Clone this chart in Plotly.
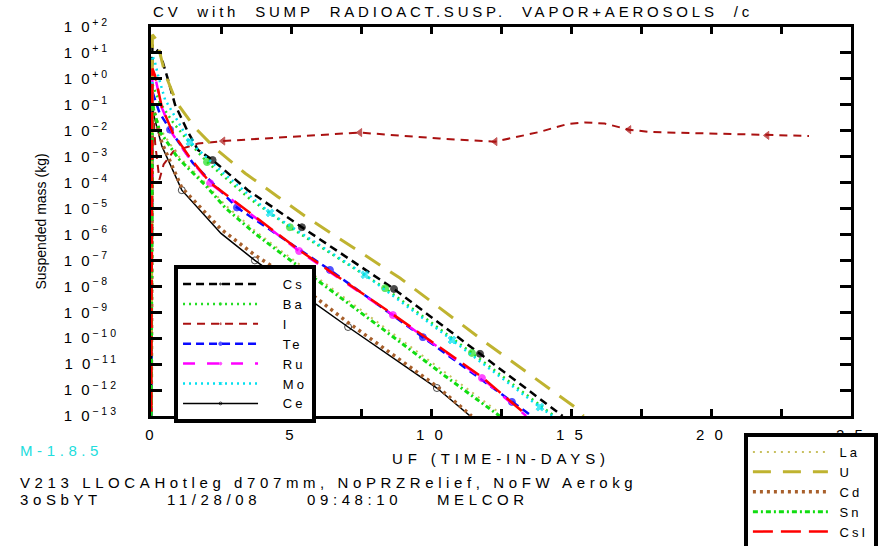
import plotly.graph_objects as go

# ---- suspended mass in the CV (kg) versus time (days), one list pair per species ----
cs_t = [0.0, 0.05, 0.15, 0.32, 0.6, 0.86, 1.32, 1.68, 2.2, 3.46, 5.39, 8.68, 11.75, 14.7]
cs_m = [1e-15, 2.0e1, 1.5e1, 1.0e1, 1.0, 1.0e-1, 8.9e-3, 1.8e-3, 7.4e-4, 5.1e-5, 1.9e-6, 7.9e-9, 2.5e-11, 1.0e-13]

ba_t = [0.0, 0.05, 0.3, 0.8, 1.4, 2.0, 3.5, 4.96, 8.36, 11.46, 14.4]
ba_m = [1e-15, 6.3e-1, 1.3e-1, 2.0e-2, 3.2e-3, 6.2e-4, 2.5e-5, 1.9e-6, 8.5e-9, 2.7e-11, 1.0e-13]

i_t = [0.0, 0.05, 0.15, 0.3, 0.45, 0.8, 1.68, 2.57, 7.46, 10.3, 12.29, 13.86, 14.86, 15.5, 16.2,
       17.07, 17.86, 22.0, 23.5]
i_m = [1e-15, 1.6e-1, 3.2e-3, 1.3e-4, 5.0e-4, 1.6e-3, 3.2e-3, 4.0e-3, 8.5e-3, 5.0e-3, 3.8e-3,
       8.9e-3, 1.8e-2, 2.1e-2, 1.9e-2, 1.1e-2, 8.9e-3, 6.6e-3, 6.3e-3]

te_t = [0.0, 0.05, 0.3, 0.68, 1.5, 3.07, 6.39, 9.71, 12.89, 13.6]
te_m = [1e-15, 3.2e-1, 5.0e-2, 1.1e-2, 5.6e-4, 1.1e-5, 4.3e-8, 1.1e-10, 3.5e-13, 1.0e-13]

ru_t = [0.0, 0.05, 0.14, 0.39, 0.79, 1.4, 2.11, 5.29, 8.64, 11.82, 13.4]
ru_m = [1e-15, 2.0, 1.3, 7.6e-2, 6.9e-3, 7.9e-4, 9.5e-5, 2.3e-7, 7.8e-10, 2.9e-12, 1.0e-13]

mo_t = [0.0, 0.05, 0.14, 0.25, 0.5, 0.96, 1.39, 2.5, 4.25, 7.64, 10.75, 13.89, 14.35]
mo_m = [1e-15, 7.9, 4.5, 1.4, 1.6e-1, 2.2e-2, 3.7e-3, 2.8e-4, 6.8e-6, 2.8e-8, 8.5e-11, 2.2e-13, 1.0e-13]

ce_t = [0.0, 0.05, 0.39, 1.1, 2.5, 3.71, 5.0, 7.04, 10.21, 11.4]
ce_m = [1e-15, 6.3e-2, 2.5e-3, 5.1e-5, 1.1e-6, 1.0e-7, 1.0e-8, 2.7e-10, 1.2e-12, 1.0e-13]

la_t = [0.0, 0.05, 0.3, 0.96, 1.93, 2.64, 3.71, 4.61, 8.18, 10.5, 12.6]
la_m = [1e-15, 1.3e-1, 1.3e-2, 1.1e-3, 1.0e-4, 1.4e-5, 1.4e-6, 2.5e-7, 3.5e-10, 4.7e-12, 1.0e-13]

u_t = [0.0, 0.05, 0.2, 0.5, 0.9, 1.57, 2.29, 3.36, 4.54, 5.6, 8.89, 11.93, 15.14, 15.45]
u_m = [1e-15, 5.0e1, 3.2e1, 1.6, 1.3e-1, 1.3e-2, 2.1e-3, 2.3e-4, 2.8e-5, 4.3e-6, 2.1e-8, 7.1e-11, 2.2e-13, 1.0e-13]

cd_t = [0.0, 0.05, 0.39, 1.1, 2.5, 3.71, 5.0, 7.04, 10.21, 11.45]
cd_m = [1e-15, 1.0e-1, 3.4e-3, 6.3e-5, 1.6e-6, 1.6e-7, 2.0e-8, 4.0e-10, 1.4e-12, 1.0e-13]

sn_t = [0.0, 0.05, 0.3, 0.96, 1.93, 2.64, 3.71, 4.61, 8.18, 10.5, 12.45]
sn_m = [1e-15, 1.0e-1, 1.0e-2, 8.9e-4, 8.1e-5, 1.1e-5, 1.1e-6, 2.0e-7, 2.7e-10, 3.5e-12, 1.0e-13]

csi_t = [0.0, 0.05, 0.14, 0.39, 0.79, 1.4, 2.11, 5.29, 8.64, 11.82, 13.45]
csi_m = [1e-15, 2.5, 1.4, 7.9e-2, 7.9e-3, 8.9e-4, 1.0e-4, 2.5e-7, 8.3e-10, 3.2e-12, 1.0e-13]

species = ["Cs", "Ba", "I", "Te", "Ru", "Mo", "Ce", "La", "U", "Cd", "Sn", "CsI"]

# point indices that carry a plot symbol
marked = {
    "Cs": [8, 10, 11, 12], "Ba": [5, 7, 8, 9], "I": [7, 8, 10, 15, 17],
    "Te": [3, 5, 6, 7, 8], "Ru": [6, 7, 8, 9], "Mo": [6, 8, 9, 10, 11],
    "Ce": [3, 5, 7, 8], "La": [], "U": [], "Cd": [], "Sn": [], "CsI": [],
}

data = {
    "Cs": (cs_t, cs_m), "Ba": (ba_t, ba_m), "I": (i_t, i_m), "Te": (te_t, te_m),
    "Ru": (ru_t, ru_m), "Mo": (mo_t, mo_m), "Ce": (ce_t, ce_m), "La": (la_t, la_m),
    "U": (u_t, u_m), "Cd": (cd_t, cd_m), "Sn": (sn_t, sn_m), "CsI": (csi_t, csi_m),
}

style = {
    "Cs":  dict(color="#000000", width=2.5, dash="8px,5px", sym="circle", legend="legend"),
    "Ba":  dict(color="#22dd22", width=2.5, dash="2px,4px", sym="circle", legend="legend"),
    "I":   dict(color="#aa1111", width=2.0, dash="8px,6px", sym="triangle-left", legend="legend"),
    "Te":  dict(color="#0a0aff", width=2.5, dash="8px,5px", sym="circle", legend="legend"),
    "Ru":  dict(color="#ff00ff", width=2.5, dash="12px,12px", sym="circle", legend="legend"),
    "Mo":  dict(color="#00e0f0", width=2.5, dash="2px,4px", sym="x", legend="legend"),
    "Ce":  dict(color="#000000", width=1.5, dash="solid", sym="circle-open", legend="legend"),
    "La":  dict(color="#c8c060", width=2.0, dash="2px,5px", sym="circle", legend="legend2"),
    "U":   dict(color="#bfb330", width=3.0, dash="18px,12px", sym="circle", legend="legend2"),
    "Cd":  dict(color="#a8602c", width=3.5, dash="3px,4px", sym="circle", legend="legend2"),
    "Sn":  dict(color="#11dd11", width=3.0, dash="5px,3px,2px,3px", sym="circle", legend="legend2"),
    "CsI": dict(color="#ff0000", width=2.5, dash="20px,8px", sym="circle", legend="legend2"),
}


def spaced(txt, gap=3):
    return f'<span style="letter-spacing:{gap}px">{txt}</span>'


NB = "\u00a0"
lead = {"legend": NB * 3, "legend2": NB}

fig = go.Figure()
for name in species:
    t, m = data[name]
    s = style[name]
    sizes = [7 if k in marked[name] else 0 for k in range(len(t))]
    fig.add_trace(go.Scatter(
        x=t, y=m, name=spaced(lead[s["legend"]] + name, 3), legend=s["legend"],
        mode="lines+markers" if marked[name] else "lines",
        line=dict(color=s["color"], width=s["width"], dash=s["dash"]),
        marker=dict(size=sizes, symbol=s["sym"], color=s["color"],
                    line=dict(width=1, color=s["color"])),
        cliponaxis=True,
    ))

# decade labels on the mass axis (single-digit exponents padded so all labels share a width)
y_exp = list(range(-13, 3))
y_vals = [10.0 ** e for e in y_exp]
y_text = [spaced("1 0", 2.5) + "<sup>" + spaced(("+" if e >= 0 else "−") + str(abs(e))
                                              + ("" if abs(e) >= 10 else "\u2007"), 3) + "</sup>"
          for e in y_exp]

x_vals = [0, 5, 10, 15, 20, 25]
x_text = ["0", "5", "1 0", "1 5", "2 0", "2 5"]

frame = dict(showline=True, linewidth=3, linecolor="black", mirror="ticks",
             ticks="inside", tickwidth=2.5, tickcolor="black", showgrid=False, zeroline=False)

fig.update_layout(
    width=884, height=546,
    margin=dict(l=151, r=33, t=27, b=130, autoexpand=False),
    paper_bgcolor="white", plot_bgcolor="white",
    font=dict(family="Liberation Sans, Arial, sans-serif", color="black", size=13),
    xaxis=dict(range=[0, 25], tickvals=x_vals, ticktext=[spaced(v, 3) for v in x_text],
               ticklen=7, tickfont=dict(size=15), ticklabelstandoff=3,
               minor=dict(dtick=2.5, ticks="inside", ticklen=7, tickwidth=2.5, tickcolor="black",
                          showgrid=False),
               title=dict(text=spaced("UF (TIME-IN-DAYS)", 4.9), font=dict(size=15), standoff=12),
               **frame),
    yaxis=dict(type="log", range=[-13, 2], tickvals=y_vals, ticktext=y_text,
               ticklen=11, tickfont=dict(size=15), ticklabelstandoff=26,
               title=dict(text="Suspended mass (kg)", font=dict(size=14), standoff=14),
               **frame),
    legend=dict(x=0.0329, y=0.388, xanchor="left", yanchor="top", bgcolor="white",
                bordercolor="black", borderwidth=4, itemwidth=75, font=dict(size=13),
                tracegroupgap=0, itemclick=False),
    legend2=dict(x=0.847, y=-0.0437, xanchor="left", yanchor="top", bgcolor="white",
                 bordercolor="black", borderwidth=4, itemwidth=75, font=dict(size=13),
                 tracegroupgap=0, itemclick=False),
    showlegend=True,
)

fig.add_annotation(text=spaced("CV" + NB * 2 + "with" + NB * 2 + "SUMP" + NB * 2 + "RADIOACT.SUSP."
                               + NB * 2 + "VAPOR+AEROSOLS" + NB * 2 + "/c", 3.8),
                   xref="paper", yref="paper", x=0.0, y=1.0386, xanchor="left", yanchor="middle",
                   showarrow=False, font=dict(size=15))


def px_x(p):
    return (p - 151) / 700


def px_y(p):
    return (416 - p) / 389


footer = [
    ("M-1.8.5", 18, 450, "#22dddd"),
    ("V213 LLOCAHotleg d707mm, NoPRZRelief, NoFW Aerokg", 18, 482, "black"),
    ("3oSbYT", 18, 500, "black"),
    ("11/28/08", 165, 500, "black"),
    ("09:48:10", 305, 500, "black"),
    ("MELCOR", 435, 500, "black"),
]
for txt, xp, yp, col in footer:
    fig.add_annotation(text=spaced(txt, 4.6), xref="paper", yref="paper",
                       x=px_x(xp), y=px_y(yp), xanchor="left", yanchor="middle", showarrow=False,
                       font=dict(size=15, color=col))

fig.write_html("out.html")
